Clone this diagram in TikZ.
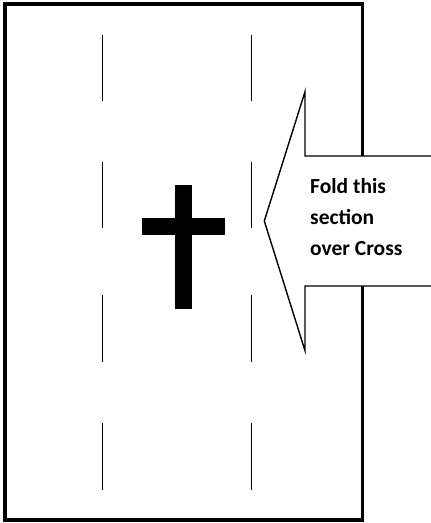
\documentclass[tikz,border=0pt]{standalone}
\usepackage{fontspec}
\setmainfont{Carlito}
\usepackage{tikz}

\begin{document}
\begin{tikzpicture}[
  x=1pt, y=-1pt,
  sheet/.style={draw, line width=3.2pt},
  foldline/.style={line width=1.3pt},
  crossbar/.style={fill=black},
  callout/.style={draw, fill=white, line width=1.4pt, line join=miter},
  note/.style={font=\bfseries\fontsize{21.5}{31}\selectfont,
               align=left, inner sep=0pt}
]
\clip (0,0) rectangle (431,523);
% sheet with fold lines
\draw[sheet] (5,4) rectangle (362.5,520);
\foreach \x in {102.7,251.7}
  \foreach \ya/\yb in {35/100.7,161.7/228,295/361.7,423/490}
    \draw[foldline] (\x,\ya) -- (\x,\yb);
% cross
\fill[crossbar] (175,185) rectangle (192.3,309);
\fill[crossbar] (141.7,218.3) rectangle (225,235);
% arrow callout
\filldraw[callout] (445,156) -- (305,156) -- (305,91.7) -- (264.3,221)
  -- (305,350.7) -- (305,286) -- (445,286);
\node[note, anchor=base west] (note) at (310,255) {Fold this\\section\\over Cross};
\end{tikzpicture}
\end{document}
